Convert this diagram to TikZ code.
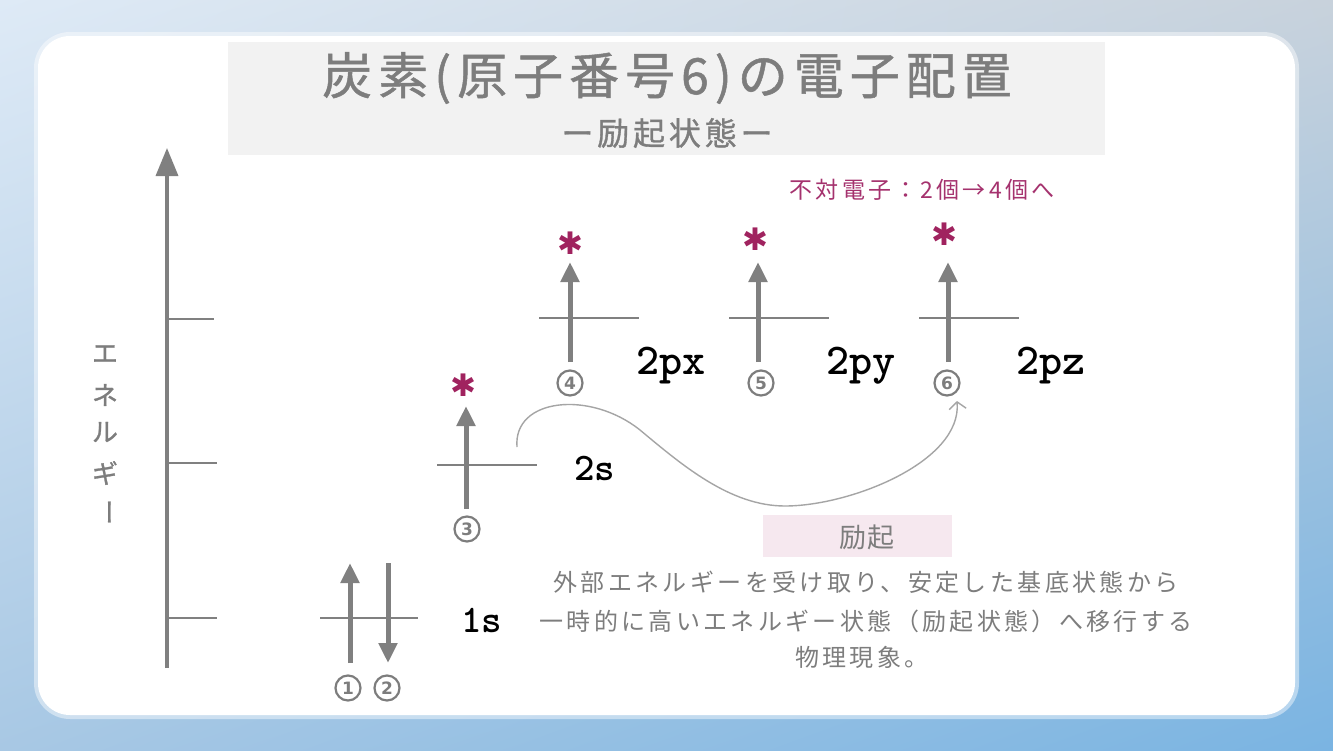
\documentclass[tikz,border=0pt]{standalone}
\usepackage{fontspec}
\usetikzlibrary{arrows.meta,shadings}
\newfontfamily\jp{Noto Sans CJK JP}
\newfontfamily\jpm{Noto Sans CJK JP}[FakeBold=1]
\newfontfamily\dv{DejaVu Sans}
\definecolor{tg}{RGB}{125,125,125}
\definecolor{lg}{RGB}{128,128,128}
\definecolor{cg}{RGB}{165,165,165}
\definecolor{mg}{RGB}{160,35,95}
\definecolor{mgt}{RGB}{165,50,110}
\definecolor{titlebg}{RGB}{242,242,242}
\definecolor{pinkbg}{RGB}{246,232,239}
\definecolor{bgul}{RGB}{222,234,246}
\definecolor{bgur}{RGB}{200,210,220}
\definecolor{bgll}{RGB}{168,200,228}
\definecolor{bglr}{RGB}{122,180,226}
\begin{document}
\begin{tikzpicture}[x=1pt,y=-1pt,
  every node/.style={inner sep=0pt, outer sep=0pt},
  level/.style={draw=lg, line width=2pt},
  elec/.style={draw=lg, line width=5pt, -{Triangle[width=18pt,length=20pt]}},
  axisline/.style={draw=lg, line width=3.5pt, -{Triangle[width=22pt,length=28pt]}},
  tick/.style={draw=lg, line width=2pt},
  num/.style={circle, draw=tg, line width=2.2pt, minimum size=25pt, text=tg,
              font=\dv\bfseries\fontsize{17}{17}\selectfont},
  vert/.style={text=tg, font=\jpm\fontsize{26}{26}\selectfont},
  star/.style={text=mg, font=\dv\bfseries\fontsize{31}{31}\selectfont},
  orb/.style={text=black, font=\ttfamily\bfseries\fontsize{44}{44}\selectfont, anchor=base west},
  orbs/.style={text=black, font=\ttfamily\bfseries\fontsize{39}{39}\selectfont, anchor=base west},
  curve/.style={draw=cg, line width=1.4pt},
  desc/.style={text=tg, font=\jp\fontsize{24}{24}\selectfont\addfontfeature{LetterSpace=14}}
]
\useasboundingbox (0,0) rectangle (1333,750);
% background
\shade[upper left=bgul, upper right=bgur, lower left=bgll, lower right=bglr] (0,0) rectangle (1333,750);
\fill[white, opacity=0.45, rounded corners=36] (34,32) rectangle (1299,719);
\fill[white, rounded corners=32] (38,36) rectangle (1295,715);
% title
\fill[titlebg] (228,42) rectangle (1105,155);
\node[text=tg, font=\jpm\fontsize{50}{50}\selectfont\addfontfeature{LetterSpace=12}] (title) at (667,78) {炭素(原子番号6)の電子配置};
\node[text=tg, font=\jpm\fontsize{32}{32}\selectfont\addfontfeature{LetterSpace=12}] (subtitle) at (667,133) {ー励起状態ー};
% energy axis
\coordinate (ax0) at (167,668);
\coordinate (ax1) at (167,148);
\draw[axisline] (ax0) -- (ax1);
\draw[tick] (165,319) -- (214,319);
\draw[tick] (168,463) -- (217,463);
\draw[tick] (168,618) -- (217,618);
\node[vert] (e1) at (105,354) {エ};
\node[vert] (e2) at (105,395) {ネ};
\node[vert] (e3) at (105,432) {ル};
\node[vert] (e4) at (105,473) {ギ};
\node[vert, rotate=-90] (e5) at (105,512) {ー};
% 1s
\draw[level] (320,618) -- (418,618);
\draw[elec] (350,663) -- (350,563);
\draw[elec] (388,563) -- (388,663);
\node[num] (n1) at (348,688) {1};
\node[num] (n2) at (387,688) {2};
\node[orbs] (l1s) at (461,632) {1s};
% 2s
\draw[level] (437,465) -- (537,465);
\draw[elec] (466,509) -- (466,406);
\node[num] (n3) at (467,529) {3};
\node[star] (s3) at (463,385) {✱};
\node[orbs] (l2s) at (574,480) {2s};
% 2px
\draw[level] (539,318) -- (639,318);
\draw[elec] (570,362) -- (570,262);
\node[num] (n4) at (570,383) {4};
\node[star] (s4) at (570,243) {✱};
\node[orb] (l2px) at (636,374) {2px};
% 2py
\draw[level] (729,318) -- (829,318);
\draw[elec] (758,362) -- (758,262);
\node[num] (n5) at (761,383) {5};
\node[star] (s5) at (755,239) {✱};
\node[orb] (l2py) at (826,374) {2py};
% 2pz
\draw[level] (919,318) -- (1019,318);
\draw[elec] (948,362) -- (948,262);
\node[num] (n6) at (947,383) {6};
\node[star] (s6) at (944,234) {✱};
\node[orb] (l2pz) at (1016,374) {2pz};
% unpaired
\node[text=mgt, font=\jp\fontsize{23}{23}\selectfont\addfontfeature{LetterSpace=14}] (unp) at (922,190) {不対電子：2個→4個へ};
% excitation curve
\coordinate (c0) at (517,447);
\coordinate (c1) at (640,430);
\coordinate (c2) at (785,506);
\coordinate (c3) at (957,401);
\draw[curve, -{Straight Barb[length=7pt,width=17pt]}] (c0) .. controls (513,398) and (590,390) .. (c1)
   .. controls (682,465) and (730,506) .. (c2)
   .. controls (850,506) and (962,462) .. (c3);
% excitation label
\fill[pinkbg] (763,515) rectangle (952,557);
\node[text=tg, font=\jp\fontsize{27}{27}\selectfont\addfontfeature{LetterSpace=6}] (exc) at (867,537) {励起};
% description
\node[desc] (d1) at (866,582) {外部エネルギーを受け取り、安定した基底状態から};
\node[desc] (d2) at (866,621) {一時的に高いエネルギー状態（励起状態）へ移行する};
\node[desc] (d3) at (862,657) {物理現象。};
\end{tikzpicture}
\end{document}
